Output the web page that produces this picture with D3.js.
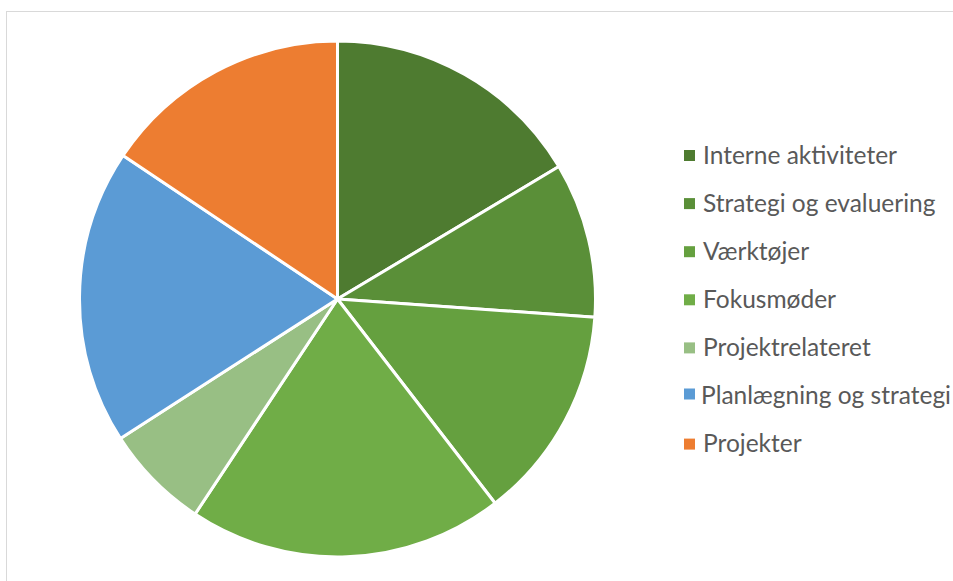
<!DOCTYPE html>
<html><head><meta charset="utf-8">
<script src="https://cdn.jsdelivr.net/npm/d3@7"></script>
<style>body{margin:0;background:#fff}svg{display:block}</style>
</head><body>
<svg id="c" width="953" height="581"></svg>
<script>
const categories = ["Interne aktiviteter","Strategi og evaluering","Værktøjer","Fokusmøder","Projektrelateret","Planlægning og strategi","Projekter"];
const values = [16.4, 9.7, 13.4, 19.75, 6.6, 18.45, 15.6];
const colors = ["#4E7B30","#5A8F38","#65A03F","#70AD47","#98BF84","#5B9BD5","#ED7D31"];

const svg = d3.select("#c");
svg.append("rect").attr("x",6.5).attr("y",11.5).attr("width",960).attr("height",600)
  .attr("fill","#fff").attr("stroke","#d9d9d9").attr("stroke-width",1);

const cx = 337.5, cy = 299, r = 258;
const pie = d3.pie().sort(null).value(d => d.v);
const arc = d3.arc().innerRadius(0).outerRadius(r);
const data = categories.map((c,i)=>({c, v: values[i], col: colors[i]}));
const g = svg.append("g").attr("transform",`translate(${cx},${cy})`);
g.selectAll("path").data(pie(data)).join("path")
  .attr("d", arc).attr("fill", d=>d.data.col)
  .attr("stroke","#fff").attr("stroke-width",3).attr("stroke-linejoin","round");

const leg = svg.append("g");
const y0 = 155, dy = 48.1;
const rows = leg.selectAll("g").data(data).join("g")
  .attr("transform",(d,i)=>`translate(0,${y0+i*dy})`);
rows.append("rect").attr("x",684).attr("y",(d,i)=> i===5?-7:-5)
  .attr("width",11).attr("height",11).attr("fill",d=>d.col);
rows.append("text").attr("x",(d,i)=> i===5?701:703).attr("y",0).attr("dy","0.35em")
  .attr("font-family","Lato, 'Open Sans', sans-serif").attr("font-size",24.5)
  .attr("fill","#595959").text(d=>d.c);
</script>
</body></html>
